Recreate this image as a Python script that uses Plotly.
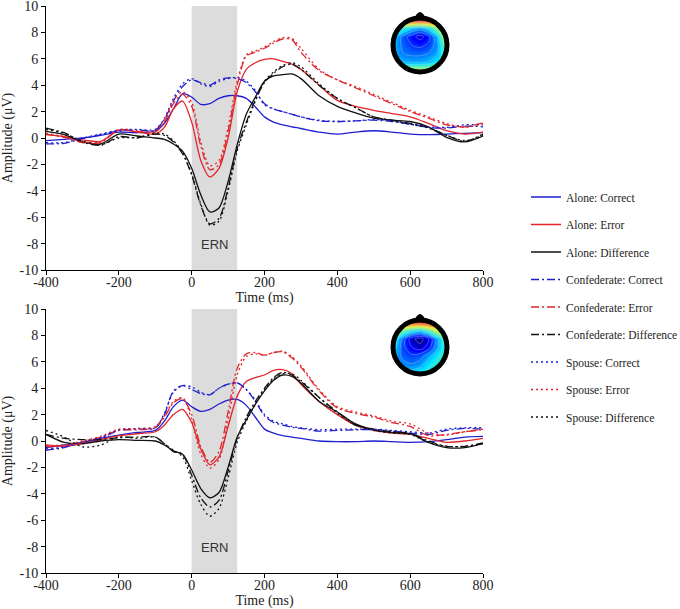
import math
import plotly.graph_objects as go

# ---------------- data ----------------
time_ms = [-400, -350, -300, -250, -200, -150, -100, -75, -50, -25, 0, 25, 50, 75, 100, 125,
           150, 175, 200, 225, 250, 275, 300, 350, 400, 450, 500, 550, 600, 650, 700, 750, 800]

# top panel
top_alone_correct = [-0.2, -0.1, 0.0, 0.2, 0.45, 0.4, 0.55, 1.1, 2.2, 3.35, 3.1, 2.55, 2.6, 3.0, 3.2, 3.2,
                     3.0, 2.35, 1.6, 1.2, 1.0, 0.85, 0.72, 0.45, 0.3, 0.45, 0.55, 0.45, 0.3, 0.25, 0.3, 0.35, 0.4]
top_alone_error = [0.25, 0.1, -0.15, -0.25, 0.6, 0.45, 0.3, 0.8, 2.2, 2.8, 1.2, -1.7, -2.95, -2.3, 0.0, 3.5,
                   5.2, 5.7, 5.95, 6.0, 5.8, 5.6, 5.2, 4.0, 2.85, 2.4, 2.1, 1.85, 1.6, 1.1, 0.55, 0.3, 0.45]
top_alone_diff = [0.5, 0.25, -0.3, -0.45, 0.3, 0.15, 0.0, -0.1, -0.45, -1.0, -2.3, -4.3, -5.6, -5.3, -3.3, -0.5,
                  1.8, 3.1, 4.3, 4.7, 4.8, 4.85, 4.5, 3.2, 2.4, 1.9, 1.5, 1.35, 1.25, 0.85, 0.05, -0.3, 0.15]
top_conf_correct = [-0.45, -0.4, -0.05, 0.25, 0.55, 0.6, 0.6, 1.4, 2.8, 3.9, 4.4, 4.2, 4.0, 4.4, 4.55, 4.5,
                    4.2, 3.5, 2.6, 2.2, 2.0, 1.8, 1.6, 1.3, 1.25, 1.3, 1.35, 1.25, 1.05, 0.8, 0.75, 0.9, 0.85]
top_conf_error = [0.3, 0.05, -0.35, -0.35, 0.6, 0.5, 0.45, 1.2, 2.6, 3.3, 2.4, -0.6, -2.4, -2.0, 0.5, 4.0,
                  6.2, 6.5, 6.8, 7.2, 7.5, 7.45, 6.5, 5.1, 4.4, 3.8, 3.2, 2.6, 2.0, 1.5, 1.0, 0.85, 1.15]
top_conf_diff = [0.75, 0.4, -0.3, -0.55, 0.1, 0.0, 0.3, 0.2, -0.3, -1.2, -2.8, -5.1, -6.5, -6.1, -3.8, -0.8,
                 1.2, 2.9, 4.2, 4.9, 5.4, 5.6, 5.2, 4.0, 3.0, 2.3, 1.6, 1.35, 1.1, 0.8, 0.2, -0.25, 0.3]
top_spouse_correct = [-0.35, -0.35, 0.0, 0.3, 0.6, 0.65, 0.65, 1.5, 3.0, 4.1, 4.5, 4.1, 3.9, 4.3, 4.5, 4.6,
                      4.3, 3.6, 2.5, 2.2, 2.0, 1.8, 1.6, 1.35, 1.25, 1.3, 1.4, 1.3, 1.05, 0.85, 0.8, 1.0, 1.0]
top_spouse_error = [0.35, 0.1, -0.3, -0.3, 0.65, 0.55, 0.5, 1.4, 2.9, 3.5, 2.7, -0.3, -2.1, -1.7, 0.8, 4.3,
                    6.3, 6.6, 6.9, 7.3, 7.6, 7.55, 6.8, 5.2, 4.4, 3.9, 3.3, 2.7, 2.1, 1.6, 1.1, 0.8, 1.1]
top_spouse_diff = [0.65, 0.35, -0.25, -0.5, 0.0, 0.05, 0.35, 0.3, -0.2, -1.1, -2.7, -5.0, -6.6, -6.3, -4.0, -1.0,
                   1.0, 2.8, 4.3, 5.0, 5.5, 5.7, 5.4, 4.1, 3.0, 2.3, 1.6, 1.3, 1.05, 0.75, 0.2, -0.2, 0.2]

# bottom panel
bot_alone_correct = [-0.5, -0.3, -0.1, 0.2, 0.45, 0.65, 0.8, 1.5, 2.6, 3.1, 2.6, 2.25, 2.4, 2.8, 3.1, 3.15,
                     2.7, 1.8, 0.9, 0.6, 0.4, 0.3, 0.2, 0.0, -0.05, -0.05, 0.0, -0.05, -0.1, -0.05, 0.1, 0.3, 0.35]
bot_alone_error = [-0.3, -0.4, -0.2, 0.1, 0.4, 0.55, 0.7, 1.2, 2.0, 2.4, 1.4, -0.6, -1.8, -1.2, 1.1, 3.4,
                   4.5, 4.8, 5.0, 5.35, 5.4, 5.1, 4.3, 3.0, 2.0, 1.2, 0.8, 0.6, 0.5, 0.2, -0.1, 0.0, 0.2]
bot_alone_diff = [0.5, -0.1, -0.2, 0.0, 0.1, 0.05, 0.0, -0.3, -0.75, -1.0, -2.2, -3.6, -4.3, -3.9, -2.0, 0.3,
                  1.6, 2.8, 3.8, 4.6, 5.0, 4.9, 4.4, 3.0, 2.2, 1.3, 0.85, 0.65, 0.55, -0.1, -0.5, -0.5, -0.2]
bot_conf_correct = [-0.7, -0.5, -0.1, 0.2, 0.8, 0.9, 1.0, 2.0, 3.8, 4.2, 3.9, 3.6, 3.5, 4.0, 4.3, 4.4,
                    3.9, 3.0, 1.9, 1.4, 1.2, 1.05, 0.95, 0.75, 0.8, 0.85, 0.85, 0.75, 0.6, 0.5, 0.8, 0.95, 0.9]
bot_conf_error = [-0.4, -0.4, -0.1, 0.3, 0.8, 0.85, 1.0, 1.8, 2.9, 3.2, 2.0, -0.4, -1.6, -0.8, 2.2, 5.5,
                  6.6, 6.7, 6.5, 6.7, 6.75, 6.3, 5.6, 3.8, 2.5, 2.1, 1.8, 1.4, 1.1, 0.4, 0.5, 0.7, 0.85]
bot_conf_diff = [0.5, 0.2, 0.1, 0.1, 0.25, 0.3, 0.3, -0.2, -0.8, -1.0, -2.6, -4.3, -5.0, -4.5, -2.3, 0.2,
                 1.8, 3.0, 4.0, 4.8, 5.2, 5.0, 4.5, 3.3, 2.2, 1.2, 0.9, 0.7, 0.6, 0.0, -0.4, -0.4, -0.15]
bot_spouse_correct = [-0.6, -0.45, -0.05, 0.25, 0.85, 0.95, 1.0, 2.1, 3.7, 4.2, 4.1, 3.7, 3.5, 4.0, 4.3, 4.4,
                      3.9, 3.1, 2.0, 1.5, 1.3, 1.1, 1.0, 0.85, 0.9, 0.9, 0.9, 0.8, 0.7, 0.6, 0.9, 1.0, 1.0]
bot_spouse_error = [-0.35, -0.3, 0.0, 0.35, 0.9, 0.95, 1.1, 1.9, 3.0, 3.3, 1.6, -1.0, -2.05, -1.4, 1.6, 5.0,
                    6.4, 6.6, 6.5, 6.7, 6.8, 6.4, 5.7, 3.9, 2.6, 2.2, 1.9, 1.5, 1.3, 0.6, 0.45, 0.7, 0.9]
bot_spouse_diff = [0.8, 0.3, -0.45, -0.3, 0.3, 0.2, 0.3, -0.2, -0.7, -1.2, -3.0, -4.8, -5.7, -5.1, -2.8, -0.1,
                   1.5, 2.8, 3.9, 4.7, 5.1, 5.1, 4.6, 3.3, 2.1, 1.2, 0.8, 0.6, 0.5, -0.1, -0.4, -0.4, -0.2]

series_names = ["Alone: Correct", "Alone: Error", "Alone: Difference",
                "Confederate: Correct", "Confederate: Error", "Confederate: Difference",
                "Spouse: Correct", "Spouse: Error", "Spouse: Difference"]
top_values = [top_alone_correct, top_alone_error, top_alone_diff,
              top_conf_correct, top_conf_error, top_conf_diff,
              top_spouse_correct, top_spouse_error, top_spouse_diff]
bot_values = [bot_alone_correct, bot_alone_error, bot_alone_diff,
              bot_conf_correct, bot_conf_error, bot_conf_diff,
              bot_spouse_correct, bot_spouse_error, bot_spouse_diff]

ern_window = [0, 125]
ern_label = "ERN"
x_ticks = [-400, -200, 0, 200, 400, 600, 800]
x_ticklabels = ["-400", "-200", "0", "200", "400", "600", "800"]
y_ticks = [-10, -8, -6, -4, -2, 0, 2, 4, 6, 8, 10]
y_ticklabels = ["-10", "-8", "-6", "-4", "-2", "0", "2", "4", "6", "8", "10"]

# scalp topography grids (rows bottom -> top, columns left -> right)
topo_coords = [-1.0, -0.667, -0.333, 0.0, 0.333, 0.667, 1.0]
topo_top = [
    [0.48, 0.52, 0.56, 0.56, 0.56, 0.56, 0.52],
    [0.32, 0.30, 0.29, 0.29, 0.31, 0.36, 0.44],
    [0.29, 0.24, 0.22, 0.22, 0.24, 0.29, 0.44],
    [0.29, 0.22, 0.17, 0.15, 0.18, 0.27, 0.48],
    [0.31, 0.21, 0.13, 0.07, 0.14, 0.30, 0.58],
    [0.50, 0.40, 0.32, 0.28, 0.35, 0.52, 0.75],
    [0.90, 0.93, 0.95, 0.95, 0.95, 0.93, 0.90],
]
topo_bot = [
    [0.32, 0.32, 0.33, 0.36, 0.40, 0.42, 0.42],
    [0.30, 0.26, 0.24, 0.27, 0.35, 0.40, 0.42],
    [0.30, 0.21, 0.18, 0.20, 0.27, 0.36, 0.42],
    [0.33, 0.19, 0.10, 0.05, 0.13, 0.28, 0.42],
    [0.38, 0.21, 0.05, 0.00, 0.08, 0.28, 0.46],
    [0.60, 0.50, 0.40, 0.36, 0.46, 0.62, 0.72],
    [0.85, 0.90, 0.92, 0.93, 0.96, 0.96, 0.92],
]

# ---------------- styles ----------------
colors = {"Correct": "#1f1fd0", "Error": "#e3242b", "Difference": "#111111"}
dashes = {"Alone": "solid", "Confederate": "8px,3px,2px,3px", "Spouse": "2px,3px"}
SERIF = "Liberation Serif, Times New Roman, serif"

fig = go.Figure()

for panel, vals in (("top", top_values), ("bot", bot_values)):
    xa, ya = ("x", "y") if panel == "top" else ("x2", "y2")
    for name, v in zip(series_names, vals):
        grp, kind = name.split(": ")
        fig.add_trace(go.Scatter(
            x=time_ms, y=v, mode="lines", name=name,
            line=dict(color=colors[kind], dash=dashes[grp], width=1.3, shape="spline", smoothing=0.8),
            xaxis=xa, yaxis=ya, legendgroup=name, showlegend=(panel == "top"),
            hoverinfo="skip"))

jet = [[0.0, "#00007f"], [0.11, "#0000ff"], [0.125, "#0000ff"], [0.34, "#00dfff"], [0.35, "#00e5ff"],
       [0.5, "#7dff7a"], [0.64, "#ffff00"], [0.65, "#fff000"], [0.89, "#ff1d00"], [1.0, "#7f0000"]]

for z, xa, ya in ((topo_top, "x3", "y3"), (topo_bot, "x4", "y4")):
    fig.add_trace(go.Heatmap(x=topo_coords, y=topo_coords, z=z, colorscale=jet, zmin=0, zmax=1,
                             zsmooth="best", showscale=False, xaxis=xa, yaxis=ya, hoverinfo="skip"))
    fig.add_trace(go.Contour(x=topo_coords, y=topo_coords, z=z, showscale=False,
                             contours=dict(coloring="none", start=0.03, end=1.0, size=0.07),
                             line=dict(color="rgba(200,205,235,0.6)", width=0.6),
                             xaxis=xa, yaxis=ya, hoverinfo="skip", showlegend=False))

shapes = []
for xr, yr in (("x", "y"), ("x2", "y2")):
    shapes.append(dict(type="rect", xref=xr, yref=yr, x0=ern_window[0], x1=ern_window[1], y0=-10, y1=10,
                       fillcolor="#dcdcdc", line=dict(width=0), layer="below"))

# head outline: white mask outside the scalp, black ring, nose
R_HOLE = 1.05
pts = [(R_HOLE * math.cos(2 * math.pi * k / 72), R_HOLE * math.sin(2 * math.pi * k / 72)) for k in range(72)]
hole = "M" + " L".join(f"{px:.4f},{py:.4f}" for px, py in pts) + " Z"
mask_path = "M-1.6,-1.6 L1.6,-1.6 L1.6,1.6 L-1.6,1.6 Z " + hole
for xr, yr in (("x3", "y3"), ("x4", "y4")):
    shapes.append(dict(type="path", xref=xr, yref=yr, path=mask_path, fillcolor="white",
                       fillrule="evenodd", line=dict(width=0), layer="above"))
    shapes.append(dict(type="circle", xref=xr, yref=yr, x0=-1.08, x1=1.08, y0=-1.08, y1=1.08,
                       line=dict(color="black", width=5), layer="above"))
    shapes.append(dict(type="path", xref=xr, yref=yr, path="M-0.2,1.1 Q0,1.5 0.2,1.1 Z",
                       fillcolor="black", line=dict(color="black", width=1), layer="above"))

annotations = []
for xr, yr in (("x", "y"), ("x2", "y2")):
    annotations.append(dict(x=sum(ern_window) / 2, y=-8.1, xref=xr, yref=yr, text=ern_label, showarrow=False,
                            font=dict(family="Liberation Sans, Arial, sans-serif", size=13, color="#333")))

W, H = 680, 609
L, R, T, B = 46, 197, 6, 36
pw, ph = W - L - R, H - T - B


def px_x(p):
    return (p - L) / pw


def px_y(p):
    return (H - B - p) / ph


top_dom = [px_y(270), 1.0]
bot_dom = [0.0, px_y(309)]

axis_common = dict(showline=True, linecolor="black", linewidth=1, ticks="outside", ticklen=4,
                   tickcolor="black", showgrid=False, zeroline=False, ticklabeloverflow="allow",
                   tickfont=dict(family=SERIF, size=14, color="#222"))
xax = dict(axis_common, range=[-400, 800], tickvals=x_ticks, ticktext=x_ticklabels, ticklabelstandoff=-5,
           title=dict(text="Time (ms)", font=dict(family=SERIF, size=14, color="#222"), standoff=2))
yax = dict(axis_common, range=[-10, 10], tickvals=y_ticks, ticktext=y_ticklabels,
           title=dict(text="Amplitude (\u03bcV)", font=dict(family=SERIF, size=14, color="#222"), standoff=4))

inset = dict(visible=False, range=[-1.5, 1.5], fixedrange=True)


def head_dom(cx, cy, half=37.5):
    return [px_x(cx - half), px_x(cx + half)], [px_y(cy + half), px_y(cy - half)]


hx1, hy1 = head_dom(420, 45)
hx2, hy2 = head_dom(420, 347)

fig.update_layout(
    width=W, height=H, margin=dict(l=L, r=R, t=T, b=B, autoexpand=False),
    paper_bgcolor="white", plot_bgcolor="rgba(0,0,0,0)",
    xaxis=dict(xax, domain=[0, 1], anchor="y"),
    yaxis=dict(yax, domain=top_dom, anchor="x"),
    xaxis2=dict(xax, domain=[0, 1], anchor="y2"),
    yaxis2=dict(yax, domain=bot_dom, anchor="x2"),
    xaxis3=dict(inset, domain=hx1, anchor="y3"),
    yaxis3=dict(inset, domain=hy1, anchor="x3"),
    xaxis4=dict(inset, domain=hx2, anchor="y4"),
    yaxis4=dict(inset, domain=hy2, anchor="x4"),
    shapes=shapes, annotations=annotations,
    showlegend=True,
    legend=dict(x=px_x(526), xanchor="left", y=px_y(307), yanchor="middle",
                traceorder="grouped", tracegroupgap=8.5,
                font=dict(family=SERIF, size=11.5, color="#222"), bgcolor="rgba(0,0,0,0)"),
)

fig.write_html("out.html")
